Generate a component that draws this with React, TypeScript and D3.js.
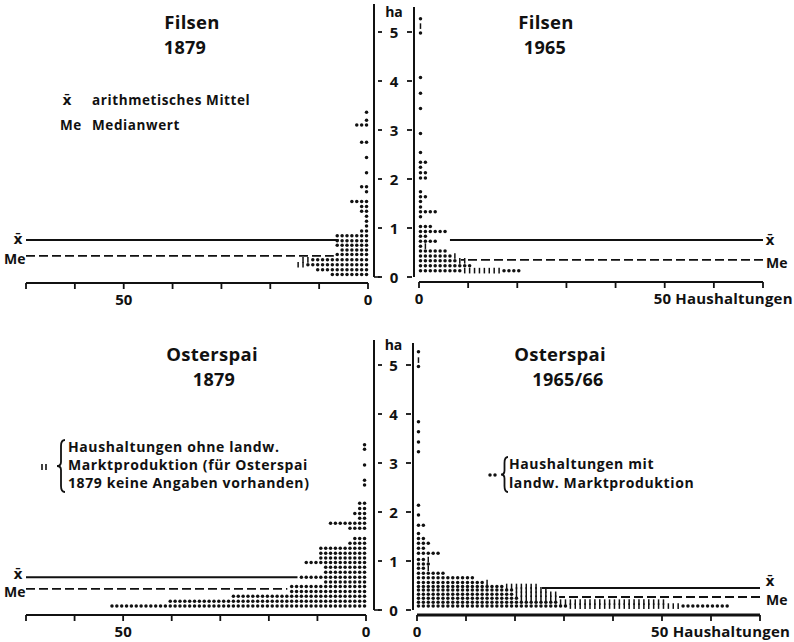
import React from "react";
import * as d3 from "d3";

// row = [ha, dots, ticks, dots after the ticks]
type Row = [number, number, number, number];

const haTicks = [0, 1, 2, 3, 4, 5];
const countTicks = [0, 10, 20, 30, 40, 50, 60, 70];

const filsen1879: Row[] = [
  [3.36, 1, 0, 0], [3.2, 1, 0, 0], [3.1, 3, 0, 0], [2.75, 2, 0, 0], [2.44, 1, 0, 0],
  [2.13, 1, 0, 0], [1.84, 2, 0, 0], [1.74, 1, 0, 0], [1.54, 4, 0, 0], [1.44, 2, 0, 0],
  [1.34, 2, 0, 0], [1.24, 1, 0, 0], [1.14, 1, 0, 0], [1.04, 1, 0, 0], [0.94, 2, 0, 0],
  [0.84, 7, 0, 0], [0.74, 7, 0, 0], [0.65, 7, 0, 0], [0.55, 6, 0, 0], [0.46, 7, 0, 0],
  [0.35, 12, 2, 0], [0.25, 13, 2, 0], [0.15, 11, 0, 0], [0.05, 8, 0, 0],
];

const filsen1965: Row[] = [
  [5.27, 1, 0, 0], [5.12, 0, 1, 0], [4.98, 1, 0, 0], [4.07, 1, 0, 0], [3.75, 1, 0, 0],
  [3.44, 1, 0, 0], [2.93, 1, 0, 0], [2.54, 1, 0, 0], [2.34, 2, 0, 0], [2.24, 1, 0, 0],
  [2.13, 2, 0, 0], [2.02, 2, 0, 0], [1.74, 1, 0, 0], [1.64, 2, 0, 0], [1.54, 1, 0, 0],
  [1.43, 1, 0, 0], [1.33, 4, 0, 0], [1.23, 1, 0, 0], [1.03, 3, 0, 0], [0.93, 6, 0, 0],
  [0.83, 2, 0, 0], [0.73, 4, 0, 0], [0.63, 1, 1, 0], [0.53, 6, 0, 0], [0.43, 7, 1, 0],
  [0.33, 8, 2, 0], [0.23, 11, 0, 0], [0.13, 9, 8, 4],
];

const osterspai1879: Row[] = [
  [3.37, 1, 0, 0], [3.28, 1, 0, 0], [2.96, 1, 0, 0], [2.65, 1, 0, 0], [2.55, 1, 0, 0],
  [2.18, 2, 0, 0], [2.07, 2, 0, 0], [1.97, 3, 0, 0], [1.87, 2, 0, 0], [1.77, 8, 0, 0],
  [1.67, 4, 0, 0], [1.46, 3, 0, 0], [1.36, 4, 0, 0], [1.26, 10, 0, 0], [1.16, 10, 0, 0],
  [1.06, 10, 0, 0], [0.97, 13, 0, 0], [0.87, 9, 0, 0], [0.77, 9, 0, 0], [0.67, 14, 0, 0],
  [0.57, 9, 0, 0], [0.48, 16, 0, 0], [0.38, 16, 0, 0], [0.28, 28, 0, 0], [0.18, 41, 0, 0],
  [0.08, 53, 0, 0],
];

const osterspai1965: Row[] = [
  [5.27, 1, 0, 0], [5.1, 0, 1, 0], [4.97, 1, 0, 0], [3.84, 1, 0, 0], [3.64, 1, 0, 0],
  [3.43, 1, 0, 0], [3.23, 1, 0, 0], [2.14, 1, 0, 0], [1.94, 1, 0, 0], [1.73, 2, 0, 0],
  [1.56, 1, 0, 0], [1.46, 2, 0, 0], [1.36, 3, 0, 0], [1.26, 2, 0, 0], [1.16, 5, 0, 0],
  [1.03, 2, 1, 0], [0.94, 3, 0, 0], [0.85, 2, 1, 0], [0.75, 6, 0, 0], [0.66, 12, 0, 0],
  [0.56, 14, 1, 0], [0.48, 18, 7, 0], [0.41, 20, 7, 0], [0.32, 20, 9, 0], [0.24, 21, 8, 0],
  [0.16, 29, 22, 0], [0.08, 31, 23, 10],
];

// Filsen 1879, Filsen 1965, Osterspai 1879, Osterspai 1965/66
const meanHa = [0.755, 0.755, 0.67, 0.45];
const medianHa = [0.43, 0.35, 0.43, 0.265];

const FONT = "'Open Sans', 'DejaVu Sans', sans-serif";
const INK = "#111";

function DotRows({ rows, x, y }) {
  const marks = [];
  rows.forEach((r, ri) => {
    const [ha, dots, ticks, dots2] = r;
    const cy = y(ha);
    for (let i = 0; i < dots + ticks + dots2; i++) {
      const cx = x(i + 0.3);
      if (i >= dots && i < dots + ticks) {
        marks.push(<line key={ri + "-" + i} x1={cx} x2={cx} y1={cy - 2.8} y2={cy + 2.8} stroke={INK} strokeWidth={1.5} />);
      } else {
        marks.push(<circle key={ri + "-" + i} cx={cx} cy={cy} r={1.75} fill={INK} />);
      }
    }
  });
  return <g>{marks}</g>;
}

function Panel({ p }) {
  const { x, y, left } = p;
  const x70 = x(70);
  const meanY = y(p.mean);
  const medY = y(p.median);
  const t = { fontWeight: 700, fontFamily: FONT, fill: INK };
  return (
    <g>
      <text x={p.titleX} y={p.titleY} textAnchor="middle" fontSize={18.5} letterSpacing={0.3} {...t}>{p.title}</text>
      <text x={p.yearX} y={p.titleY + 25} textAnchor="middle" fontSize={18} letterSpacing={0.3} {...t}>{p.year}</text>
      <line x1={x70} x2={x(p.meanEnd)} y1={meanY} y2={meanY} stroke={INK} strokeWidth={2} />
      <line x1={x70} x2={x(p.medianEnd)} y1={medY} y2={medY} stroke={INK} strokeWidth={1.8} strokeDasharray="9 4" />
      <DotRows rows={p.rows} x={x} y={y} />
      <line x1={x(0)} x2={x70} y1={p.axisY} y2={p.axisY} stroke={INK} strokeWidth={p.axisW} />
      {countTicks.map((c) => (
        <line key={c} x1={x(c)} x2={x(c)} y1={p.axisY} y2={p.axisY + 6} stroke={INK} strokeWidth={1.8} />
      ))}
      <text x={x(0)} y={p.axisY + 22} textAnchor="middle" fontSize={15} {...t}>0</text>
      {left ? (
        <text x={x(50)} y={p.axisY + 22} textAnchor="middle" fontSize={15} {...t}>50</text>
      ) : (
        <text x={x(50) - 11} y={p.axisY + 22} fontSize={15} letterSpacing={0.2} {...t}>50 Haushaltungen</text>
      )}
      <text x={left ? 18 : 770} y={p.meanLabelY} textAnchor="middle" fontSize={14} fontWeight={700} fontFamily="'DejaVu Sans', sans-serif" fill={INK}>{"x\u0304"}</text>
      <text x={left ? 4 : 766} y={p.medLabelY} fontSize={14} {...t}>Me</text>
    </g>
  );
}

function CenterAxis({ y, xl, xr, top, haY }) {
  const mid = (xl + xr) / 2;
  const t = { fontWeight: 700, fontFamily: FONT, fill: INK };
  return (
    <g>
      <line x1={xl} x2={xl} y1={top} y2={y(0)} stroke={INK} strokeWidth={2} />
      <line x1={xl} x2={xl + 6} y1={y(0)} y2={y(0)} stroke={INK} strokeWidth={1.6} />
      <line x1={xr} x2={xr} y1={top + 3} y2={y(0)} stroke={INK} strokeWidth={2} />
      <text x={mid} y={haY} textAnchor="middle" fontSize={14} {...t}>ha</text>
      {haTicks.map((h) => (
        <g key={h}>
          <line x1={xl + 4} x2={xl + 8} y1={y(h)} y2={y(h)} stroke={INK} strokeWidth={1.8} />
          <line x1={xr - 7} x2={xr - 2} y1={y(h)} y2={y(h)} stroke={INK} strokeWidth={1.8} />
          <text x={mid} y={y(h) + 5.5} textAnchor="middle" fontSize={15} {...t}>{h}</text>
        </g>
      ))}
    </g>
  );
}

function brace(x, y1, y2, w) {
  const ym = (y1 + y2) / 2;
  const xm = x + w / 2;
  return `M${x + w},${y1} Q${xm},${y1} ${xm},${y1 + 6} L${xm},${ym - 4} Q${xm},${ym} ${x},${ym} Q${xm},${ym} ${xm},${ym + 4} L${xm},${y2 - 6} Q${xm},${y2} ${x + w},${y2}`;
}

export default function App() {
  const yTop = d3.scaleLinear().domain([0, 5]).range([277, 32]);
  const yBot = d3.scaleLinear().domain([0, 5]).range([610, 365]);

  const panels = [
    { title: "Filsen", year: "1879", titleX: 192, yearX: 185, titleY: 29, rows: filsen1879, left: true,
      x: d3.scaleLinear().domain([0, 70]).range([368, 26]), y: yTop, axisY: 283, axisW: 2,
      mean: meanHa[0], median: medianHa[0], meanEnd: 6, medianEnd: 7, meanLabelY: 244, medLabelY: 264 },
    { title: "Filsen", year: "1965", titleX: 546, yearX: 545, titleY: 29, rows: filsen1965, left: false,
      x: d3.scaleLinear().domain([0, 70]).range([419, 763]), y: yTop, axisY: 282, axisW: 2,
      mean: meanHa[1], median: medianHa[1], meanEnd: 6.3, medianEnd: 8.5, meanLabelY: 245, medLabelY: 268 },
    { title: "Osterspai", year: "1879", titleX: 212, yearX: 214, titleY: 361, rows: osterspai1879, left: true,
      x: d3.scaleLinear().domain([0, 70]).range([366, 26]), y: yBot, axisY: 615, axisW: 2,
      mean: meanHa[2], median: medianHa[2], meanEnd: 14.1, medianEnd: 16.2, meanLabelY: 579, medLabelY: 597 },
    { title: "Osterspai", year: "1965/66", titleX: 560, yearX: 568, titleY: 361, rows: osterspai1965, left: false,
      x: d3.scaleLinear().domain([0, 70]).range([417, 760]), y: yBot, axisY: 615, axisW: 3,
      mean: meanHa[3], median: medianHa[3], meanEnd: 25.5, medianEnd: 29, meanLabelY: 586, medLabelY: 605 },
  ];

  const txt = { fontSize: 13.5, fontWeight: 700, fontFamily: FONT, fill: INK, letterSpacing: 0.6 };
  const txt2 = { ...txt, fontSize: 14 };

  return (
    <svg width={794} height={642} style={{ position: "absolute", left: 0, top: 0, background: "#fff" }}>
      <rect width={794} height={642} fill="#fff" />
      <CenterAxis y={yTop} xl={374} xr={414} top={4} haY={17} />
      <CenterAxis y={yBot} xl={374} xr={413} top={340} haY={350} />
      {panels.map((p, i) => (
        <Panel key={i} p={p} />
      ))}

      <text x={67} y={105} textAnchor="middle" fontSize={14} fontWeight={700} fontFamily="'DejaVu Sans', sans-serif" fill={INK}>{"x\u0304"}</text>
      <text x={92} y={105} {...txt}>arithmetisches Mittel</text>
      <text x={60} y={130} {...txt}>Me</text>
      <text x={92} y={130} {...txt}>Medianwert</text>

      <line x1={42} x2={42} y1={464} y2={470} stroke={INK} strokeWidth={1.6} />
      <line x1={46} x2={46} y1={464} y2={470} stroke={INK} strokeWidth={1.6} />
      <path d={brace(57, 440, 492, 8)} fill="none" stroke={INK} strokeWidth={1.8} />
      <text {...txt2}>
        <tspan x={68} y={452}>Haushaltungen ohne landw.</tspan>
        <tspan x={68} y={470}>Marktproduktion (für Osterspai</tspan>
        <tspan x={68} y={488}>1879 keine Angaben vorhanden)</tspan>
      </text>

      <circle cx={490} cy={475} r={1.75} fill={INK} />
      <circle cx={495} cy={475} r={1.75} fill={INK} />
      <path d={brace(501, 457, 492, 7)} fill="none" stroke={INK} strokeWidth={1.8} />
      <text {...txt2}>
        <tspan x={509} y={469}>Haushaltungen mit</tspan>
        <tspan x={509} y={488}>landw. Marktproduktion</tspan>
      </text>
    </svg>
  );
}
